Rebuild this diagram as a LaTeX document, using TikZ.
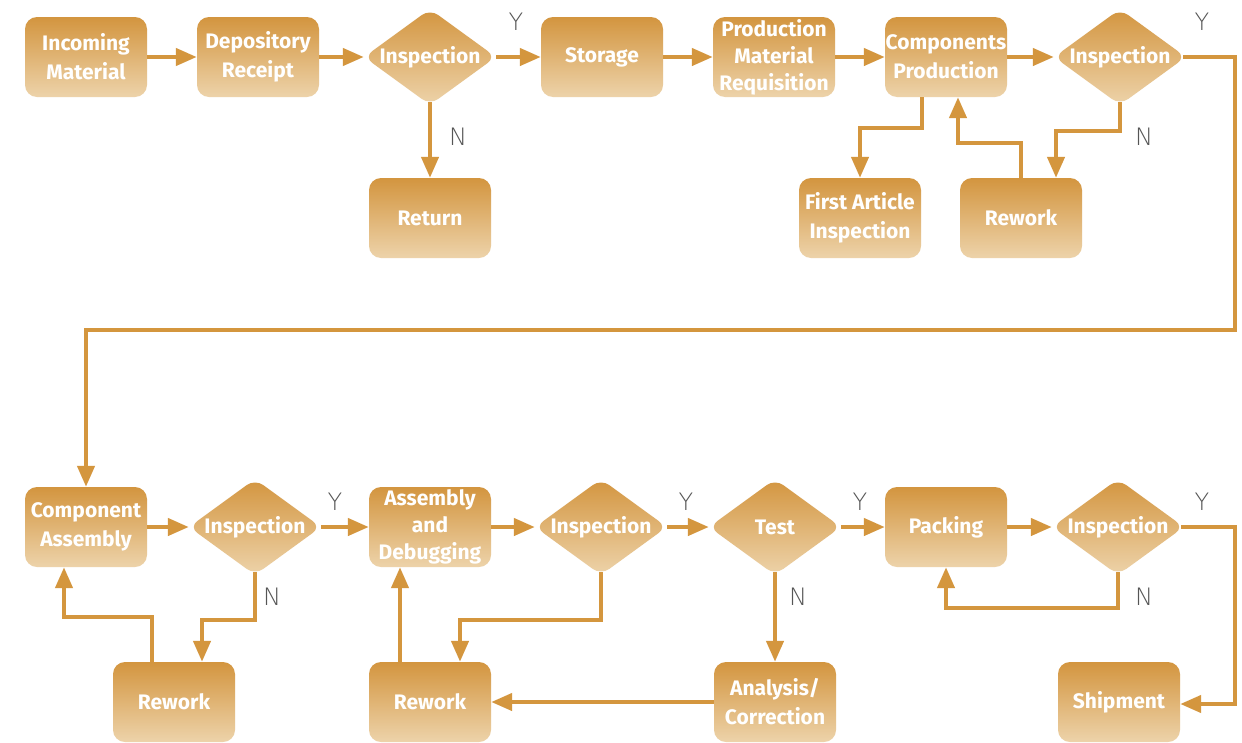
\documentclass[tikz,border=0pt]{standalone}
\usepackage{fontspec}
\setmainfont{Fira Sans}
\newfontfamily\thinfont{DejaVu Sans}[UprightFont={* ExtraLight}]
\usetikzlibrary{shapes.geometric,arrows.meta}
\definecolor{org}{HTML}{D4963E}
\definecolor{orgtop}{HTML}{D3953F}
\definecolor{orgbot}{HTML}{EDD3AA}
\definecolor{lblgray}{HTML}{555555}
\begin{document}
\begin{tikzpicture}[x=1pt,y=-1pt,
  box/.style={rounded corners=12pt, top color=orgtop, bottom color=orgbot, draw=none,
    minimum width=122pt, minimum height=80pt, inner sep=0pt, align=center, text=white,
    font=\bfseries\fontsize{21}{29}\selectfont},
  dia/.style={diamond, aspect=1.4, rounded corners=10pt, top color=orgtop, bottom color=orgbot, draw=none,
    minimum width=132pt, minimum height=96pt, inner sep=0pt, text=white,
    font=\bfseries\fontsize{21}{29}\selectfont},
  conn/.style={draw=org, line width=4.3pt, -{Triangle[length=21pt,width=17pt]}},
  lbl/.style={text=lblgray, font=\thinfont\fontsize{24}{24}\selectfont, inner sep=0pt}]
\useasboundingbox (0,0) rectangle (1242,742);
\fill[white] (0,0) rectangle (1242,742);
% top row
\node[box] (im) at (86,57) {Incoming\\Material};
\node[box] (dr) at (258,57) {Depository\\Receipt};
\node[dia] (ins1) at (430,57) {\makebox[0pt]{Inspection}};
\node[box] (st) at (602,57) {Storage};
\node[box, font=\bfseries\fontsize{21}{27}\selectfont] (pmr) at (774,57) {Production\\Material\\Requisition};
\node[box] (cp) at (946,57) {Components\\Production};
\node[dia] (ins2) at (1120,57) {\makebox[0pt]{Inspection}};
\node[box] (ret) at (430,218) {Return};
\node[box] (fai) at (860,218) {First Article\\Inspection};
\node[box] (rw1) at (1021,218) {Rework};
% bottom row
\node[box] (ca) at (86,527) {Component\\Assembly};
\node[dia] (ins3) at (255,527) {\makebox[0pt]{Inspection}};
\node[box, font=\bfseries\fontsize{21}{27}\selectfont] (ad) at (430,527) {Assembly\\and\\Debugging};
\node[dia] (ins4) at (601,527) {\makebox[0pt]{Inspection}};
\node[dia] (test) at (775,527) {\makebox[0pt]{Test}};
\node[box] (pk) at (946,527) {Packing};
\node[dia] (ins5) at (1118,527) {\makebox[0pt]{Inspection}};
\node[box] (rw2) at (174,702) {Rework};
\node[box] (rw3) at (430,702) {Rework};
\node[box] (an) at (775,702) {Analysis/\\Correction};
\node[box] (sh) at (1119,702) {Shipment};
\coordinate (r1) at (1235,330);
\coordinate (r2) at (1235,704);
% connectors top
\draw[conn] (im) -- (dr);
\draw[conn] (dr) -- (ins1);
\draw[conn] (ins1) -- (st);
\draw[conn] (st) -- (pmr);
\draw[conn] (pmr) -- (cp);
\draw[conn] (cp) -- (ins2);
\draw[conn] ([yshift=3pt]ins1.south) -- (ret.north);
\draw[conn] ([xshift=-24pt]cp.south) -- ++(0,31) -| (fai.north);
\draw[conn] (rw1.north) -- ++(0,-35) -| ([xshift=12pt]cp.south);
\draw[conn] ([yshift=3pt]ins2.south) -- ++(0,29) -| ([xshift=35pt]rw1.north);
\draw[conn] ([xshift=-3pt]ins2.east) -| (r1) -| (ca.north);
% connectors bottom
\draw[conn] (ca) -- (ins3);
\draw[conn] (ins3) -- (ad);
\draw[conn] (ad) -- (ins4);
\draw[conn] (ins4) -- (test);
\draw[conn] (test) -- (pk);
\draw[conn] (pk) -- (ins5);
\draw[conn] ([yshift=3pt]ins3.south) -- ++(0,48) -| ([xshift=28pt]rw2.north);
\draw[conn] ([xshift=-22pt]rw2.north) -- ++(0,-45) -| ([xshift=-22pt]ca.south);
\draw[conn] ([yshift=3pt]ins4.south) -- ++(0,48) -| ([xshift=30pt]rw3.north);
\draw[conn] ([xshift=-30pt]rw3.north) -- ([xshift=-30pt]ad.south);
\draw[conn] ([yshift=3pt]test.south) -- (an.north);
\draw[conn] (an.west) -- (rw3.east);
\draw[conn] ([yshift=3pt]ins5.south) -- ++(0,36) -| (pk.south);
\draw[conn] ([xshift=-3pt]ins5.east) -| (r2) -- (r2 -| sh.east);
% labels
\node[lbl] (y1) at (516,22) {Y};
\node[lbl] (n1) at (458,137) {N};
\node[lbl] (y2) at (1202,22) {Y};
\node[lbl] (n2) at (1144,137) {N};
\node[lbl] (y3) at (335,502) {Y};
\node[lbl] (n3) at (272,597) {N};
\node[lbl] (y4) at (686,502) {Y};
\node[lbl] (y5) at (860,502) {Y};
\node[lbl] (n5) at (798,597) {N};
\node[lbl] (y6) at (1202,502) {Y};
\node[lbl] (n6) at (1144,597) {N};
\end{tikzpicture}
\end{document}
